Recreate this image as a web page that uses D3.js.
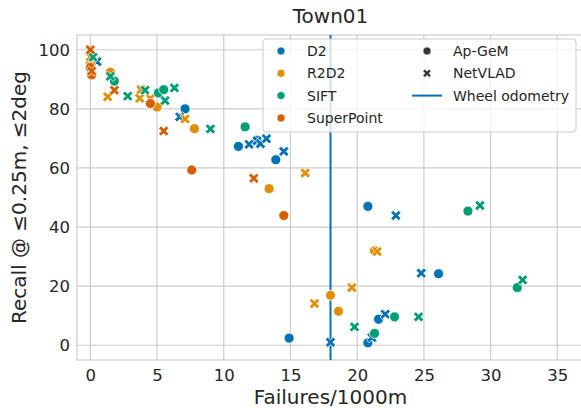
<!DOCTYPE html>
<html>
<head>
<meta charset="utf-8">
<script src="https://cdn.jsdelivr.net/npm/d3@7"></script>
<style>
  body { margin: 0; background: #fff; }
  text { font-family: "DejaVu Sans", sans-serif; fill: #262626; }
</style>
</head>
<body>
<svg width="581" height="408"></svg>
<script>
// methods (hue) and their colours
var methods = ["D2", "R2D2", "SIFT", "SuperPoint"];
var colors = ["#0173b2", "#de8f05", "#029e73", "#d55e00"];
// retrieval (style)
var retrievals = ["Ap-GeM", "NetVLAD"];
var wheelOdometry = 18;

var xTicks = [0, 5, 10, 15, 20, 25, 30, 35];
var yTicks = [0, 20, 40, 60, 80, 100];

// [failures/1000m, recall]
var d2ApGem = [[7.1, 80], [11.1, 67.3], [12.5, 69.4], [13.9, 62.8], [20.8, 47], [26.1, 24.2], [21.6, 8.8], [20.8, 0.8], [14.9, 2.4]];
var d2NetVlad = [[0.5, 96], [6.7, 77.3], [11.9, 68], [12.5, 69.2], [12.75, 68.2], [13.2, 69.9], [14.5, 65.6], [22.9, 43.9], [24.8, 24.4], [22.1, 10.5], [21.1, 2.6], [18, 1]];
var r2d2ApGem = [[0, 95.5], [1.5, 92.4], [5, 80.6], [7.8, 73.3], [13.4, 53], [21.3, 32], [18, 16.9], [18.6, 11.5]];
var r2d2NetVlad = [[0, 97.6], [1.3, 84.1], [3.7, 83.6], [3.8, 86.5], [4.5, 83.5], [7.1, 76.6], [16.1, 58.3], [21.5, 31.7], [19.6, 19.5], [16.8, 14.1]];
var siftApGem = [[1.8, 89.4], [5.1, 85.4], [5.5, 86.5], [11.6, 73.9], [28.3, 45.4], [32, 19.5], [22.8, 9.6], [21.3, 4]];
var siftNetVlad = [[0.2, 97.5], [1.5, 91], [2.8, 84.3], [4.1, 86.3], [5.6, 82.8], [6.3, 87.1], [9, 73.2], [29.2, 47.3], [32.4, 22.1], [24.6, 9.6], [19.8, 6.2]];
var spApGem = [[0, 94], [0.1, 91.5], [4.5, 81.8], [7.6, 59.3], [14.5, 43.9]];
var spNetVlad = [[0, 100], [0.1, 92.8], [1.8, 86.3], [5.5, 72.5], [12.25, 56.5]];

var series = [
  {method: 0, retrieval: 0, values: d2ApGem},
  {method: 0, retrieval: 1, values: d2NetVlad},
  {method: 1, retrieval: 0, values: r2d2ApGem},
  {method: 1, retrieval: 1, values: r2d2NetVlad},
  {method: 2, retrieval: 0, values: siftApGem},
  {method: 2, retrieval: 1, values: siftNetVlad},
  {method: 3, retrieval: 0, values: spApGem},
  {method: 3, retrieval: 1, values: spNetVlad}
];

var svg = d3.select("svg");
var plotLeft = 77, plotRight = 584, plotTop = 35, plotBottom = 360;

var x = d3.scaleLinear().domain([-1, 37]).range([plotLeft, plotRight]);
var y = d3.scaleLinear().domain([-5, 105]).range([plotBottom, plotTop]);

// grid
var grid = svg.append("g");
grid.selectAll(".gx").data(xTicks).enter().append("line")
  .attr("x1", function(d) { return x(d); }).attr("x2", function(d) { return x(d); })
  .attr("y1", plotTop).attr("y2", plotBottom)
  .attr("stroke", "#cccccc").attr("stroke-width", 1.2);
grid.selectAll(".gy").data(yTicks).enter().append("line")
  .attr("x1", plotLeft).attr("x2", plotRight)
  .attr("y1", function(d) { return y(d); }).attr("y2", function(d) { return y(d); })
  .attr("stroke", "#cccccc").attr("stroke-width", 1.2);

// spines
svg.append("rect")
  .attr("x", plotLeft).attr("y", plotTop)
  .attr("width", plotRight - plotLeft).attr("height", plotBottom - plotTop)
  .attr("fill", "none").attr("stroke", "#cccccc").attr("stroke-width", 1.2);

// axes (labels only, no tick marks like seaborn whitegrid)
var xAxis = svg.append("g")
  .attr("transform", "translate(0," + plotBottom + ")")
  .call(d3.axisBottom(x).tickValues(xTicks).tickSize(0).tickPadding(9));
var yAxis = svg.append("g")
  .attr("transform", "translate(" + plotLeft + ",0)")
  .call(d3.axisLeft(y).tickValues(yTicks).tickSize(0).tickPadding(7));
[xAxis, yAxis].forEach(function(a) {
  a.select(".domain").remove();
  a.selectAll("text").style("font-size", "16.5px").attr("fill", "#262626")
    .style("font-family", "DejaVu Sans, sans-serif");
});

// wheel odometry line
svg.append("line")
  .attr("x1", x(wheelOdometry)).attr("x2", x(wheelOdometry))
  .attr("y1", plotTop).attr("y2", plotBottom)
  .attr("stroke", colors[0]).attr("stroke-width", 2);

// filled X marker like matplotlib "X"
function xPath(s, w) {
  var pts = [[-w, -s], [w, -s], [w, -w], [s, -w], [s, w], [w, w], [w, s], [-w, s], [-w, w], [-s, w], [-s, -w], [-w, -w]];
  var c = Math.SQRT1_2;
  return "M" + pts.map(function(p) {
    return [(p[0] - p[1]) * c, (p[0] + p[1]) * c].join(",");
  }).join("L") + "Z";
}

var marks = svg.append("g");
series.forEach(function(s) {
  var sel = marks.selectAll(null).data(s.values).enter();
  if (s.retrieval === 0) {
    sel.append("circle")
      .attr("cx", function(d) { return x(d[0]); })
      .attr("cy", function(d) { return y(d[1]); })
      .attr("r", 5)
      .attr("fill", colors[s.method])
      .attr("stroke", "#fff").attr("stroke-width", 0.8);
  } else {
    sel.append("path")
      .attr("d", xPath(5.6, 1.7))
      .attr("transform", function(d) { return "translate(" + x(d[0]) + "," + y(d[1]) + ")"; })
      .attr("fill", colors[s.method])
      .attr("stroke", "#fff").attr("stroke-width", 0.8);
  }
});

// title and axis labels
svg.append("text")
  .attr("x", (plotLeft + plotRight) / 2).attr("y", 23)
  .attr("text-anchor", "middle")
  .style("font-size", "20px")
  .text("Town01");
svg.append("text")
  .attr("x", (plotLeft + plotRight) / 2).attr("y", 404)
  .attr("text-anchor", "middle")
  .style("font-size", "20px")
  .text("Failures/1000m");
svg.append("text")
  .attr("transform", "translate(26," + (plotTop + plotBottom) / 2 + ") rotate(-90)")
  .attr("text-anchor", "middle")
  .style("font-size", "20px")
  .text("Recall @ ≤0.25m, ≤2deg");

// legend
var lg = svg.append("g").attr("transform", "translate(263,39)");
lg.append("rect")
  .attr("width", 313).attr("height", 93).attr("rx", 3)
  .attr("fill", "#fff").attr("fill-opacity", 0.8)
  .attr("stroke", "#cccccc").attr("stroke-width", 1);

methods.forEach(function(m, i) {
  var row = lg.append("g").attr("transform", "translate(0," + (12 + i * 22.3) + ")");
  row.append("circle").attr("cx", 18).attr("cy", 0).attr("r", 4)
    .attr("fill", colors[i]).attr("stroke", "#fff").attr("stroke-width", 0.6);
  row.append("text").attr("x", 44).attr("y", 5).style("font-size", "14px").text(m);
});

retrievals.forEach(function(r, i) {
  var row = lg.append("g").attr("transform", "translate(0," + (12 + i * 22.3) + ")");
  if (i === 0) {
    row.append("circle").attr("cx", 164).attr("cy", 0).attr("r", 4).attr("fill", "#333333")
      .attr("stroke", "#fff").attr("stroke-width", 0.6);
  } else {
    row.append("path").attr("d", xPath(4.4, 1.4))
      .attr("transform", "translate(164,0)").attr("fill", "#333333")
      .attr("stroke", "#fff").attr("stroke-width", 0.6);
  }
  row.append("text").attr("x", 190).attr("y", 5).style("font-size", "14px").text(r);
});

var wl = lg.append("g").attr("transform", "translate(0," + (12 + 2 * 22.3) + ")");
wl.append("line").attr("x1", 149).attr("x2", 179).attr("y1", 0).attr("y2", 0)
  .attr("stroke", colors[0]).attr("stroke-width", 2);
wl.append("text").attr("x", 190).attr("y", 5).style("font-size", "14px").text("Wheel odometry");
</script>
</body>
</html>
